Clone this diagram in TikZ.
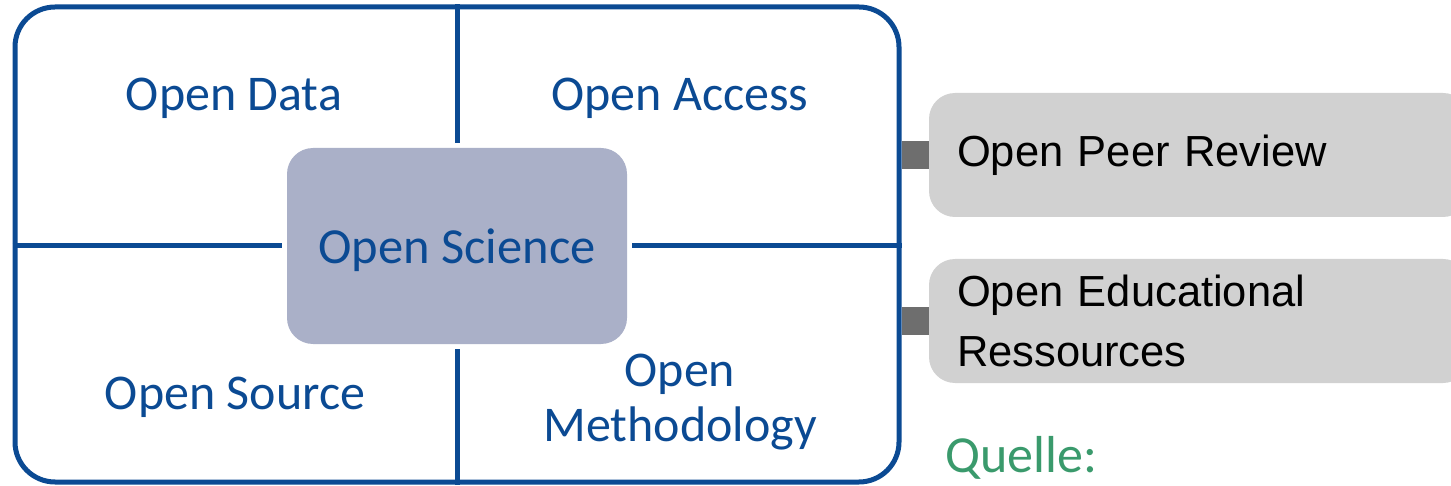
\documentclass[tikz,border=0pt]{standalone}
\usepackage{fontspec}
\setmainfont{Carlito}
\newfontfamily\arialf{Liberation Sans}
\definecolor{osblue}{HTML}{0B4A93}
\definecolor{scifill}{HTML}{AAB0C8}
\definecolor{grayfill}{HTML}{D1D1D1}
\definecolor{stubgray}{HTML}{6E6E6E}
\definecolor{quellegreen}{HTML}{3A9A6C}
\tikzset{
  frame/.style={draw=osblue, line width=5pt, rounded corners=40pt, inner sep=0pt},
  scibox/.style={fill=scifill, rounded corners=26pt, inner sep=0pt, minimum width=340pt, minimum height=196pt,
     text=osblue, font=\fontsize{50.5}{55}\selectfont, text depth=0pt},
  divider/.style={draw=osblue, line width=5pt},
  bluelabel/.style={text=osblue, font=\fontsize{50}{55}\selectfont, inner sep=0pt},
  graybox/.style={fill=grayfill, rounded corners=26pt, inner xsep=28pt, inner ysep=0pt,
     text width=484pt, minimum height=124pt, align=left, font=\arialf\fontsize{43.5}{60}\selectfont},
  stub/.style={draw=stubgray, line width=28pt},
}
\begin{document}
\begin{tikzpicture}[x=1pt,y=-1pt]
\useasboundingbox (0,0) rectangle (1451,486);
\clip (0,0) rectangle (1451,486);
% outer frame
\node[frame, minimum width=884pt, minimum height=475pt] (frame) at (457,244.5) {};
% centre box
\node[scibox] (sci) at (457,246) {Open Science};
% dividers
\draw[divider] (frame.north) -- ([yshift=5pt]sci.north);
\draw[divider] (frame.south) -- ([yshift=-5pt]sci.south);
\draw[divider] (sci.west -| frame.west) -- ([xshift=-5pt]sci.west);
\draw[divider] (sci.east -| frame.east) -- ([xshift=5pt]sci.east);
% quadrant labels
\node[bluelabel, anchor=base] (data) at (234,111) {Open Data};
\node[bluelabel, anchor=base] (access) at (680,111) {Open Access};
\node[bluelabel, anchor=base] (source) at (235,409) {Open Source};
\node[bluelabel, align=center] (method) at (680,402) {Open\\Methodology};
% right side boxes
\node[graybox] (peer) at (1199,155) {Open Peer Review};
\node[graybox] (oer) at (1199,321) {Open Educational\\Ressources};
\draw[stub] (peer.west -| frame.east) -- (peer.west);
\draw[stub] (oer.west -| frame.east) -- (oer.west);
% source label
\node[text=quellegreen, font=\fontsize{52}{55}\selectfont, inner sep=0pt, anchor=base west] (quelle) at (945,472) {Quelle:};
\end{tikzpicture}
\end{document}
